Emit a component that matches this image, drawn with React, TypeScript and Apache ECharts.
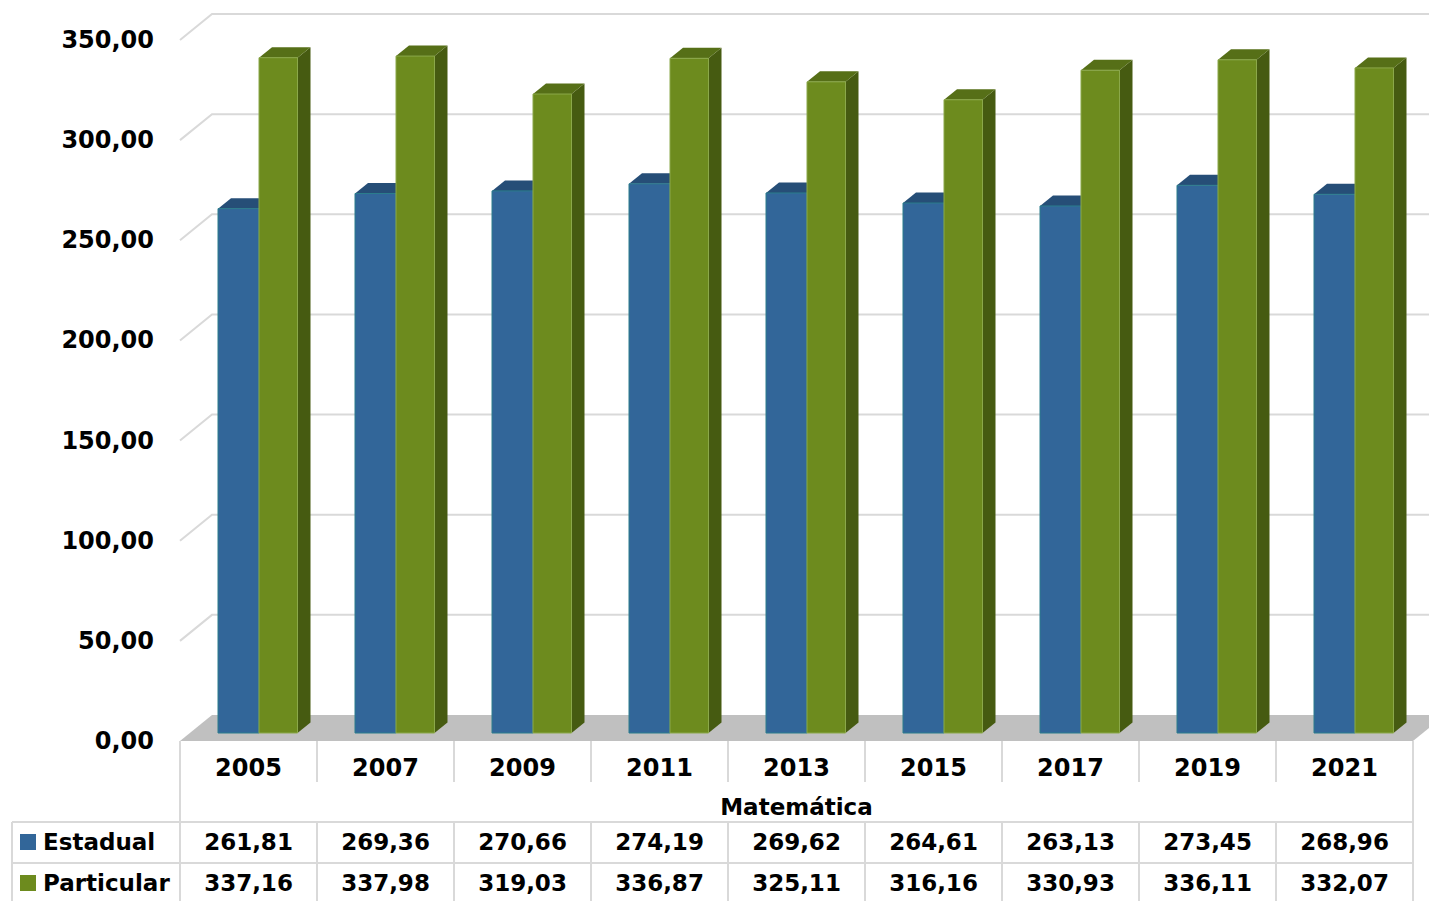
import React, { useEffect, useRef } from "react";
import * as echarts from "echarts";

const years = ["2005", "2007", "2009", "2011", "2013", "2015", "2017", "2019", "2021"];
const estadual = [261.81, 269.36, 270.66, 274.19, 269.62, 264.61, 263.13, 273.45, 268.96];
const particular = [337.16, 337.98, 319.03, 336.87, 325.11, 316.16, 330.93, 336.11, 332.07];
const seriesNames = ["Estadual", "Particular"];
const yTicks = [0, 50, 100, 150, 200, 250, 300, 350];
const axisTitle = "Matemática";

const fmt = (v: number) => v.toFixed(2).replace(".", ",");

const W = 1429;
const H = 901;
const GRID = { left: 180, right: 16, top: 40, bottom: 160 };
const DEPTH_X = 32;
const DEPTH_Y = -26;
const PLANE_X = 10.5;
const PLANE_Y = -8;
const BAR_DX = 13;
const BAR_DY = -10.5;
const FONT = "'DejaVu Sans', Verdana, sans-serif";
const LINE = "#d9d9d9";

const colors = [
  { front: "#326699", top: "#264e77", side: "#1f4163", edge: "#2b7d8c" },
  { front: "#6d8b1e", top: "#566f17", side: "#465b11", edge: "#8ba84a" },
];

function barRender(which: number) {
  return (params: any, api: any) => {
    const i = api.value(0);
    const v = api.value(1);
    const top = api.coord([i, v]);
    const base = api.coord([i, 0]);
    const c = top[0] + PLANE_X;
    const x0 = which === 0 ? c - 41 : c;
    const x1 = which === 0 ? c : c + 38.5;
    const yT = top[1] + PLANE_Y;
    const yB = base[1] + PLANE_Y;
    const col = colors[which];
    return {
      type: "group",
      children: [
        {
          type: "polygon",
          shape: { points: [[x1, yT], [x1 + BAR_DX, yT + BAR_DY], [x1 + BAR_DX, yB + BAR_DY], [x1, yB]] },
          style: { fill: col.side },
        },
        {
          type: "polygon",
          shape: { points: [[x0, yT], [x0 + BAR_DX, yT + BAR_DY], [x1 + BAR_DX, yT + BAR_DY], [x1, yT]] },
          style: { fill: col.top },
        },
        {
          type: "rect",
          shape: { x: x0, y: yT, width: x1 - x0, height: yB - yT },
          style: { fill: col.front, stroke: col.edge, lineWidth: 1 },
        },
      ],
    };
  };
}

function textStyle(text: string, align: string, size = 24) {
  return {
    text,
    fill: "#000",
    font: `bold ${size}px ${FONT}`,
    align,
    verticalAlign: "middle",
    textAlign: align,
    textVerticalAlign: "middle",
  };
}

export default function App() {
  const ref = useRef<HTMLDivElement>(null);
  useEffect(() => {
    if (!ref.current) return;
    const chart = echarts.init(ref.current, undefined, { renderer: "svg" });

    const plotLeft = GRID.left;
    const plotRight = W - GRID.right;
    const step = (plotRight - plotLeft) / years.length;
    const yAxisBase = H - GRID.bottom;
    const yearRowEnd = 782;
    const row1Top = 822;
    const row2Top = 863;
    const tableBottom = 903;

    const graphics: any[] = [];
    const vline = (x: number, y1: number, y2: number) =>
      graphics.push({ type: "line", shape: { x1: x, y1, x2: x, y2 }, style: { stroke: LINE, lineWidth: 2 }, z: 10 });
    const hline = (y: number, x1: number, x2: number) =>
      graphics.push({ type: "line", shape: { x1, y1: y, x2, y2: y }, style: { stroke: LINE, lineWidth: 2 }, z: 10 });

    vline(plotLeft, yAxisBase, tableBottom);
    vline(plotRight, yAxisBase, tableBottom);
    vline(12, row1Top, tableBottom);
    hline(row1Top, 12, plotRight);
    hline(row2Top, 12, plotRight);
    for (let i = 1; i < years.length; i++) {
      const x = plotLeft + i * step;
      vline(x, yAxisBase, yearRowEnd);
      vline(x, row1Top, tableBottom);
    }
    graphics.push({
      type: "text",
      x: (plotLeft + plotRight) / 2,
      y: 807,
      style: textStyle(axisTitle, "center", 23),
      z: 10,
    });
    const rowY = [842, 883];
    seriesNames.forEach((name, k) => {
      graphics.push({
        type: "rect",
        shape: { x: 20, y: rowY[k] - 8, width: 16, height: 16 },
        style: { fill: colors[k].front },
        z: 10,
      });
      graphics.push({ type: "text", x: 43, y: rowY[k], style: textStyle(name, "left", 23), z: 10 });
    });

    const tableData = years.map((_, i) => [i, estadual[i], particular[i]]);

    chart.setOption({
      animation: false,
      grid: { left: GRID.left, right: GRID.right, top: GRID.top, bottom: GRID.bottom },
      xAxis: {
        type: "category",
        data: years,
        axisLine: { show: false },
        axisTick: { show: false },
        axisLabel: { margin: 15, fontSize: 24, fontWeight: "bold", color: "#000", fontFamily: FONT },
        splitLine: { show: false },
      },
      yAxis: {
        type: "value",
        min: 0,
        max: 350,
        interval: 50,
        axisLine: { show: false },
        axisTick: { show: false },
        splitLine: { show: false },
        axisLabel: {
          margin: 26,
          fontSize: 24,
          fontWeight: "bold",
          color: "#000",
          fontFamily: FONT,
          formatter: (v: number) => fmt(v),
        },
      },
      graphic: graphics,
      series: [
        {
          type: "custom",
          name: "grid3d",
          z: 1,
          data: yTicks.filter((t) => t > 0).map((t) => [0, t]),
          encode: { x: 0, y: 1 },
          renderItem: (params: any, api: any) => {
            const cs = params.coordSys;
            const y = api.coord([0, api.value(1)])[1];
            return {
              type: "polyline",
              shape: {
                points: [
                  [cs.x, y],
                  [cs.x + DEPTH_X, y + DEPTH_Y],
                  [cs.x + cs.width + DEPTH_X, y + DEPTH_Y],
                ],
              },
              style: { stroke: LINE, lineWidth: 2, fill: null },
            };
          },
        },
        {
          type: "custom",
          name: "floor",
          z: 2,
          data: [[0, 0]],
          encode: { x: 0, y: 1 },
          renderItem: (params: any, api: any) => {
            const cs = params.coordSys;
            const y = api.coord([0, 0])[1];
            return {
              type: "polygon",
              shape: {
                points: [
                  [cs.x, y],
                  [cs.x + DEPTH_X, y + DEPTH_Y],
                  [cs.x + cs.width + DEPTH_X, y + DEPTH_Y],
                  [cs.x + cs.width, y],
                ],
              },
              style: { fill: "#c0c0c0" },
            };
          },
        },
        {
          type: "custom",
          name: seriesNames[0],
          z: 3,
          data: estadual.map((v, i) => [i, v]),
          encode: { x: 0, y: 1 },
          renderItem: barRender(0),
        },
        {
          type: "custom",
          name: seriesNames[1],
          z: 4,
          data: particular.map((v, i) => [i, v]),
          encode: { x: 0, y: 1 },
          renderItem: barRender(1),
        },
        {
          type: "custom",
          name: "table",
          z: 5,
          data: tableData,
          encode: { x: 0, y: 1 },
          renderItem: (params: any, api: any) => {
            const x = api.coord([api.value(0), 0])[0];
            return {
              type: "group",
              children: [
                { type: "text", x, y: rowY[0], style: textStyle(fmt(api.value(1)), "center", 23) },
                { type: "text", x, y: rowY[1], style: textStyle(fmt(api.value(2)), "center", 23) },
              ],
            };
          },
        },
      ],
    });
    return () => chart.dispose();
  }, []);
  return (
    <div
      ref={ref}
      style={{ position: "absolute", left: 0, top: 0, width: W, height: H, background: "#fff" }}
    />
  );
}
